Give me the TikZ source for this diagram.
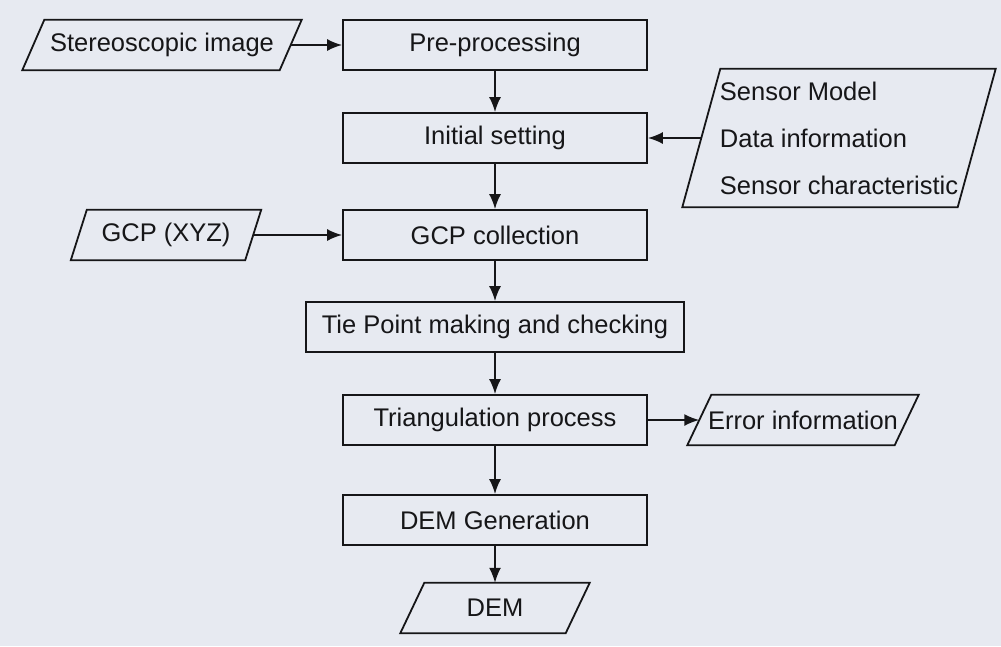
\documentclass[tikz,border=0pt]{standalone}
\usepackage{fontspec}
\setmainfont{Liberation Sans}
\usetikzlibrary{arrows.meta,calc}
\definecolor{paper}{RGB}{231,234,241}
\definecolor{ink}{RGB}{22,22,24}
\tikzset{
  labelfont/.style={font=\fontsize{25.5}{47}\selectfont, text=ink},
  box/.style={draw=ink, line width=1.8pt, minimum height=50pt, inner sep=0pt, labelfont},
  iobox/.style={draw=none, minimum height=50pt, inner sep=0pt, labelfont},
  outline/.style={draw=ink, line width=1.8pt, line join=miter},
  flow/.style={draw=ink, line width=1.8pt, -{Latex[length=15pt,width=12pt]}},
}
% slanted (input/output) frame around a named node; #2 = horizontal skew
\newcommand\slantframe[2]{%
  \draw[outline] ($(#1.north west)+(#2/2,0)$) -- ($(#1.north east)+(#2/2,0)$)
    -- ($(#1.south east)-(#2/2,0)$) -- ($(#1.south west)-(#2/2,0)$) -- cycle;}

\begin{document}
\begin{tikzpicture}[x=1pt,y=-1pt]
\fill[paper] (0,0) rectangle (1001,646);
\useasboundingbox (0,0) rectangle (1001,646);

% process steps
\node[box, minimum width=304pt] (pre)  at (495,45)  {Pre-processing};
\node[box, minimum width=304pt] (init) at (495,138) {Initial setting};
\node[box, minimum width=304pt] (gcpc) at (495,235) {GCP collection};
\node[box, minimum width=378pt] (tie)  at (495,327) {Tie Point making and checking};
\node[box, minimum width=304pt] (tri)  at (495,420) {Triangulation process};
\node[box, minimum width=304pt] (demg) at (495,520) {DEM Generation};

% inputs and outputs
\node[iobox, minimum width=257pt] (stereo) at (162,45) {Stereoscopic image};
\slantframe{stereo}{22}
\node[iobox, minimum width=174pt] (gcpx) at (166,235) {GCP (XYZ)};
\slantframe{gcpx}{16}
\node[iobox, minimum width=275pt, minimum height=138pt, align=left]
  (sensor) at (839,138) {Sensor Model\\Data information\\Sensor characteristic};
\slantframe{sensor}{38}
\node[iobox, minimum width=207pt] (err) at (803,420) {Error information};
\slantframe{err}{24}
\node[iobox, minimum width=165pt] (dem) at (495,608) {DEM};
\slantframe{dem}{24}

% connectors
\draw[flow] (stereo.east) -- (pre.west);
\draw[flow] (pre.south) -- (init.north);
\draw[flow] (sensor.west) -- (init.east);
\draw[flow] (init.south) -- (gcpc.north);
\draw[flow] (gcpx.east) -- (gcpc.west);
\draw[flow] (gcpc.south) -- (tie.north);
\draw[flow] (tie.south) -- (tri.north);
\draw[flow] (tri.east) -- (err.west);
\draw[flow] (tri.south) -- (demg.north);
\draw[flow] (demg.south) -- (dem.north);
\end{tikzpicture}
\end{document}
